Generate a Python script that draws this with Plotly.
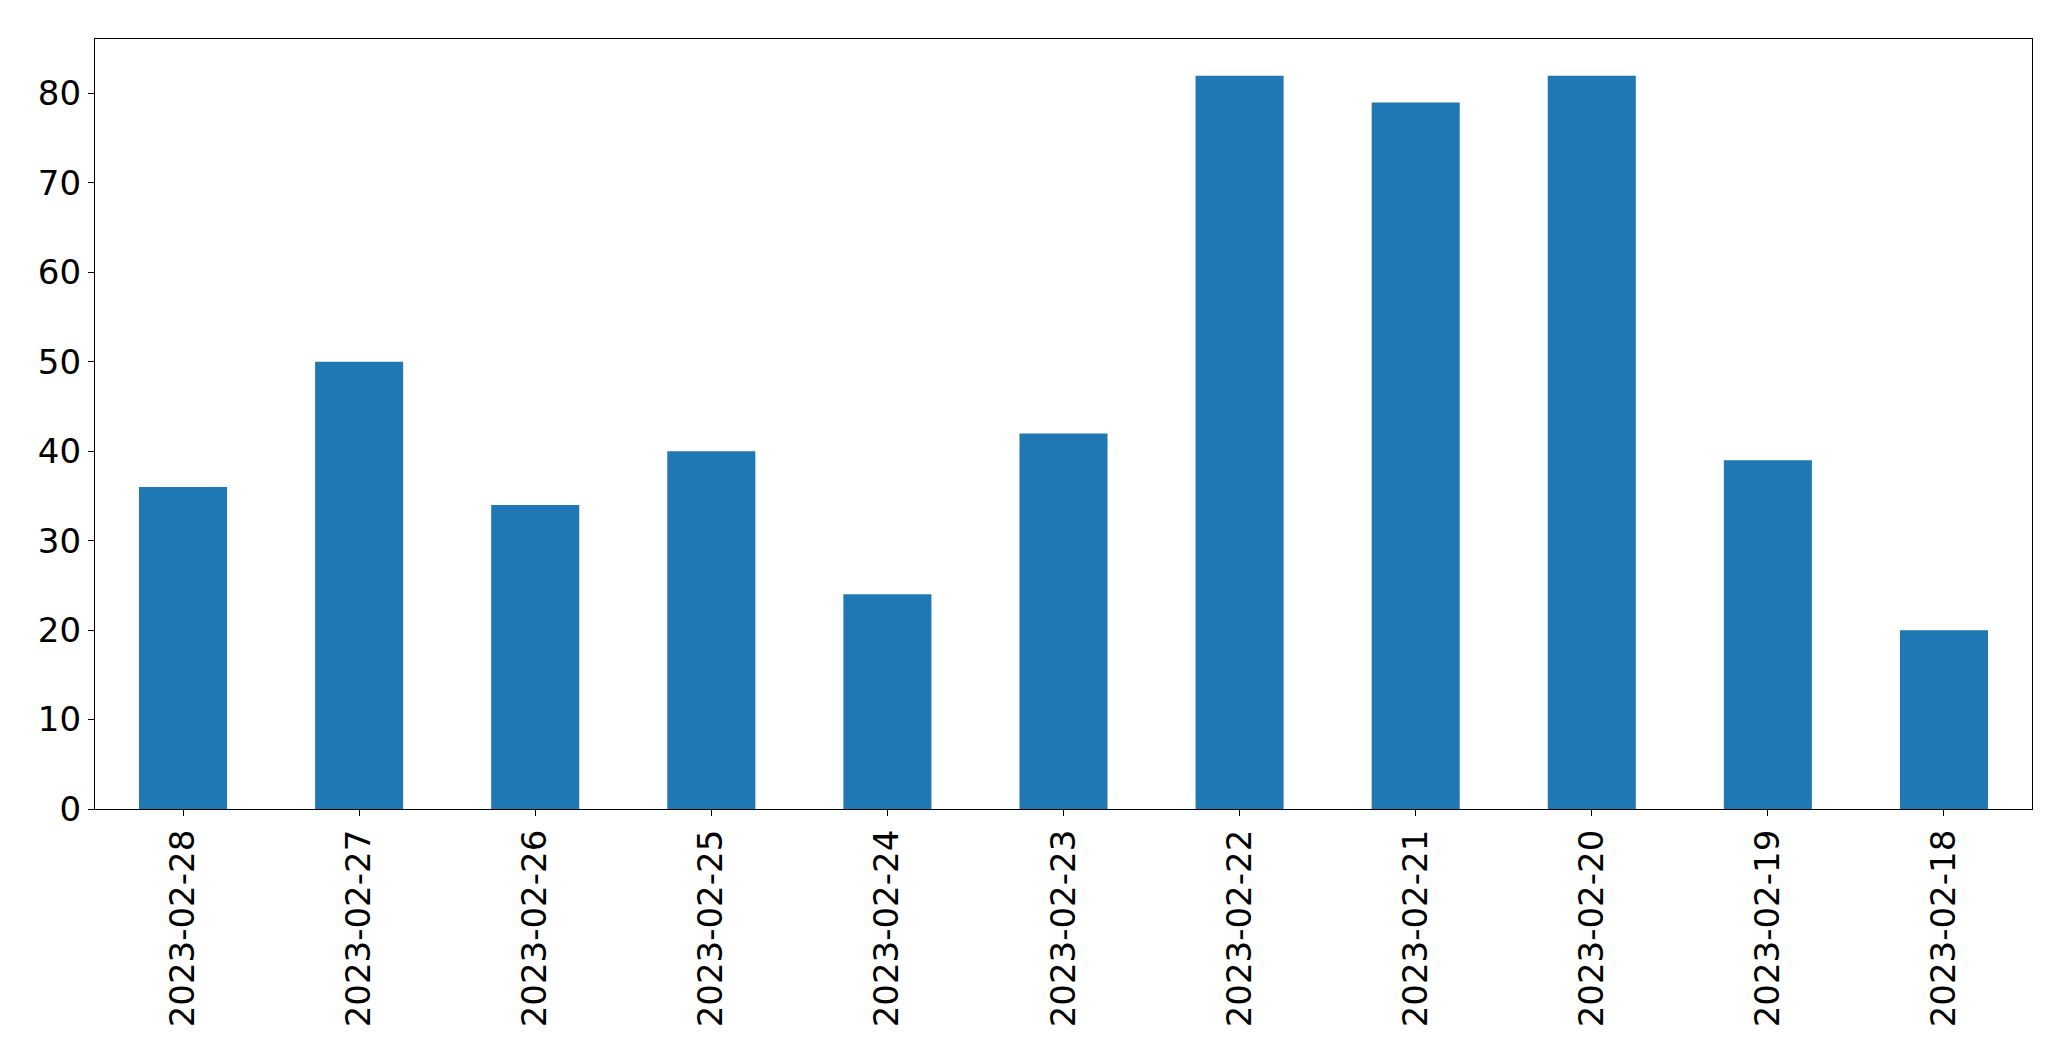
import plotly.graph_objects as go

dates = ["2023-02-28", "2023-02-27", "2023-02-26", "2023-02-25", "2023-02-24", "2023-02-23",
         "2023-02-22", "2023-02-21", "2023-02-20", "2023-02-19", "2023-02-18"]
counts = [36, 50, 34, 40, 24, 42, 82, 79, 82, 39, 20]
y_ticks = [0, 10, 20, 30, 40, 50, 60, 70, 80]

fig = go.Figure(go.Bar(x=list(range(len(dates))), y=counts, width=0.5,
                       marker=dict(color="#1f77b4", line=dict(width=0))))

font = dict(family="DejaVu Sans", size=34, color="black")
fig.update_layout(
    width=2063, height=1053,
    margin=dict(l=87, r=39, t=31, b=252),
    paper_bgcolor="white", plot_bgcolor="white",
    showlegend=False, font=font,
    xaxis=dict(range=[-0.5, len(dates) - 0.5], tickmode="array",
               tickvals=list(range(len(dates))), ticktext=dates, tickangle=-90,
               showgrid=False, zeroline=False, showline=True, linecolor="black",
               linewidth=1.3, mirror=True, ticks="outside", ticklen=6, tickwidth=1.3,
               tickcolor="black", tickfont=font, ticklabelstandoff=0),
    yaxis=dict(range=[0, 86.1], tickmode="array", tickvals=y_ticks,
               showgrid=False, zeroline=False, showline=True, linecolor="black",
               linewidth=1.3, mirror=True, ticks="outside", ticklen=6, tickwidth=1.3,
               tickcolor="black", tickfont=font, ticklabelstandoff=0),
)
fig.write_html("out.html")
